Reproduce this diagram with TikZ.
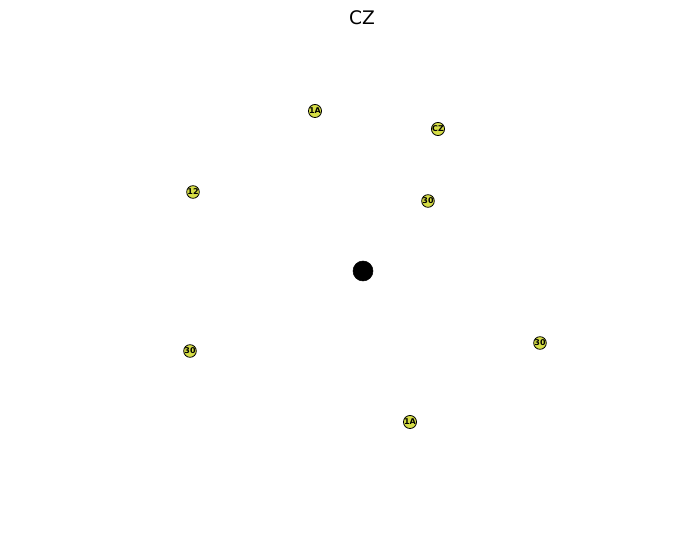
\documentclass[tikz,border=0pt]{standalone}
\usepackage{fontspec}
\setmainfont{DejaVu Sans}
\definecolor{leafy}{RGB}{214,222,70}
\begin{document}
\begin{tikzpicture}[x=0.75pt,y=-0.75pt,
  leaf/.style={circle,draw=black,line width=0.6pt,fill=leafy,inner sep=0pt,minimum size=9.5pt,font=\fontsize{6}{6}\selectfont\bfseries},
  hub/.style={circle,fill=black,draw=black,inner sep=0pt,minimum size=15pt}]
\useasboundingbox (0,0) rectangle (694,545);
\node[font=\fontsize{14}{16}\selectfont] (title) at (362,18) {CZ};
\node[hub] (c) at (363,271) {};
\node[leaf] (n1) at (315,111) {1A};
\node[leaf] (n2) at (438,129) {CZ};
\node[leaf] (n3) at (193,192) {12};
\node[leaf] (n4) at (428,201) {30};
\node[leaf] (n5) at (190,351) {30};
\node[leaf] (n6) at (540,343) {30};
\node[leaf] (n7) at (410,422) {1A};
\end{tikzpicture}
\end{document}
